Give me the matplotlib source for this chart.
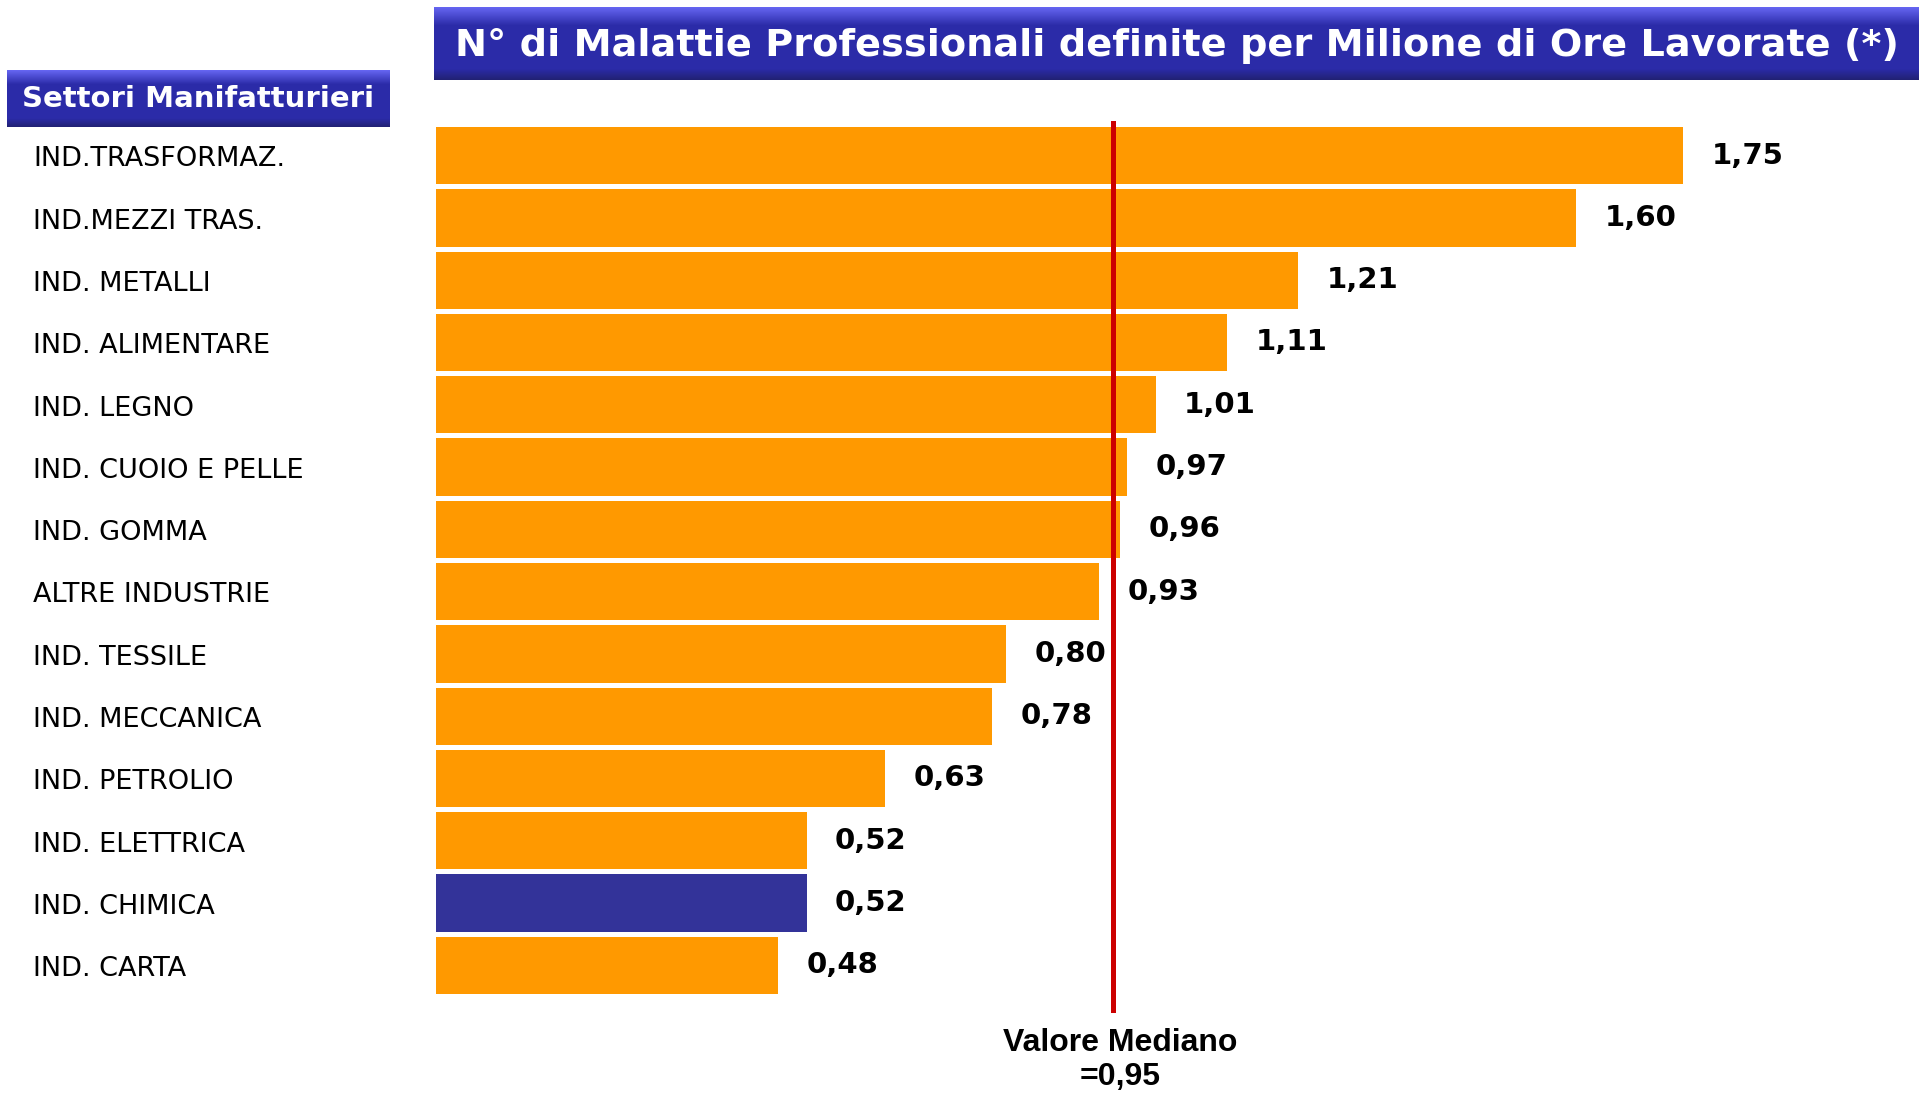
import matplotlib
matplotlib.use('Agg')
import matplotlib.pyplot as plt
from matplotlib.transforms import blended_transform_factory
import numpy as np

# dati
settori = ['IND.TRASFORMAZ.', 'IND.MEZZI TRAS.', 'IND. METALLI', 'IND. ALIMENTARE',
           'IND. LEGNO', 'IND. CUOIO E PELLE', 'IND. GOMMA', 'ALTRE INDUSTRIE',
           'IND. TESSILE', 'IND. MECCANICA', 'IND. PETROLIO', 'IND. ELETTRICA',
           'IND. CHIMICA', 'IND. CARTA']
valori = [1.75, 1.60, 1.21, 1.11, 1.01, 0.97, 0.96, 0.93, 0.80, 0.78, 0.63, 0.52, 0.52, 0.48]
etichette = ['1,75', '1,60', '1,21', '1,11', '1,01', '0,97', '0,96', '0,93', '0,80',
             '0,78', '0,63', '0,52', '0,52', '0,48']
evidenziato = 'IND. CHIMICA'
mediana = 0.95
titolo = 'N° di Malattie Professionali definite per Milione di Ore Lavorate (*)'
intestazione = 'Settori Manifatturieri'
nota_mediana = 'Valore Mediano\n=0,95'

W, H = 1919, 1093
fig = plt.figure(figsize=(W / 100, H / 100), dpi=100)

def box(x0, y0, x1, y1):
    # riquadro blu con sfumatura verticale
    a = fig.add_axes([x0 / W, 1 - y1 / H, (x1 - x0) / W, (y1 - y0) / H])
    t = np.linspace(0, 1, 200)[:, None]
    top = np.array([0.40, 0.40, 0.95])
    mid = np.array([0.17, 0.17, 0.66])
    bot = np.array([0.13, 0.13, 0.45])
    col = np.where(t < 0.25, top + (mid - top) * (t / 0.25),
                   np.where(t < 0.85, mid, mid + (bot - mid) * ((t - 0.85) / 0.15)))
    img = np.repeat(col[:, None, :], 2, axis=1)
    a.imshow(img, aspect='auto', extent=[0, 1, 0, 1])
    a.set_axis_off()
    return a

# titolo
box(434, 7, 1919, 80)
tt = fig.text(455 / W, 1 - 46 / H, titolo, color='white', fontsize=30, fontweight='bold',
              family='DejaVu Sans', ha='left', va='center')
fig.canvas.draw()
w = tt.get_window_extent().width
tt.set_fontsize(30 * 1440 / w)

# intestazione a sinistra
box(7, 70, 389, 127)
fig.text(198 / W, 1 - 99 / H, intestazione, color='white', fontsize=21, fontweight='bold',
         family='DejaVu Sans', ha='center', va='center')

# grafico a barre
ax = fig.add_axes([436 / W, 1 - 1013 / H, (W - 436) / W, (1013 - 121) / H])
y = np.arange(len(settori))
colori = ['#333399' if s == evidenziato else '#FF9900' for s in settori]
ax.barh(y, valori, height=0.92, color=colori, zorder=2)
ax.set_xlim(0, (W - 436) / 712.6)
ax.set_ylim(13.765, -0.556)
ax.axvline(mediana, color='#CC0000', lw=3.6, zorder=3)
for yi, v, lab in zip(y, valori, etichette):
    ax.text(v + 0.04, yi, lab, fontsize=21, fontweight='bold', family='DejaVu Sans',
            ha='left', va='center', zorder=4)
ax.set_axis_off()

tr = blended_transform_factory(fig.transFigure, ax.transData)
for yi, s in zip(y, settori):
    ax.text(33 / W, yi + 0.06, s, transform=tr, fontsize=19.5, family='DejaVu Sans',
            ha='left', va='center')

fig.text(1120 / W, 1 - 1060 / H, nota_mediana, fontsize=23, fontweight='bold',
         family='Liberation Sans', ha='center', va='center', linespacing=1.15)

fig.savefig('out.png', dpi=100)
